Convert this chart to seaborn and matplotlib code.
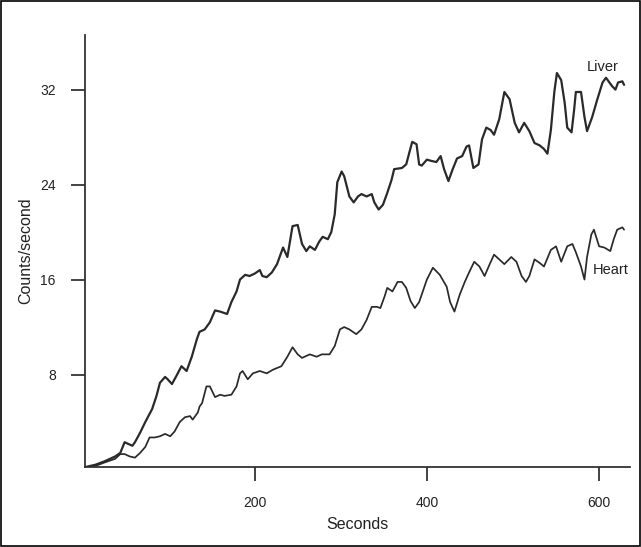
import matplotlib
matplotlib.use("Agg")
import matplotlib.pyplot as plt
import seaborn as sns

# Liver curve (seconds, counts/second)
liver_t = [3, 15, 26, 38, 44, 49, 58, 61, 67, 73, 81, 86, 90, 96, 99, 104, 110, 115, 121, 127,
           133, 136, 142, 148, 154, 160, 168, 173, 179, 183, 189, 194, 200, 206, 209, 214, 220,
           226, 233, 238, 244, 250, 255, 260, 264, 270, 275, 279, 285, 289, 293, 296, 301, 304,
           310, 315, 320, 324, 330, 336, 339, 344, 349, 354, 359, 362, 371, 376, 380, 383, 388,
           391, 394, 400, 405, 411, 416, 420, 425, 430, 435, 441, 446, 449, 454, 460, 464, 469,
           474, 478, 484, 490, 496, 502, 507, 513, 519, 525, 531, 536, 540, 544, 548, 551, 556,
           560, 563, 568, 571, 573, 579, 583, 586, 592, 598, 604, 608, 615, 619, 622, 627, 629]
liver_v = [0.2, 0.4, 0.7, 1.1, 1.4, 2.3, 2.0, 2.3, 3.1, 4.0, 5.1, 6.2, 7.3, 7.8, 7.6, 7.2, 8.0,
           8.7, 8.3, 9.5, 11.0, 11.6, 11.8, 12.4, 13.4, 13.3, 13.1, 14.1, 15.0, 16.0, 16.4, 16.3,
           16.5, 16.8, 16.3, 16.2, 16.6, 17.3, 18.7, 17.9, 20.5, 20.6, 19.0, 18.4, 18.8, 18.5,
           19.2, 19.6, 19.4, 20.0, 21.5, 24.2, 25.1, 24.7, 23.0, 22.5, 23.0, 23.2, 23.0, 23.2,
           22.5, 21.9, 22.3, 23.3, 24.4, 25.3, 25.4, 25.7, 26.8, 27.6, 27.4, 25.7, 25.6, 26.1,
           26.0, 25.9, 26.4, 25.3, 24.3, 25.3, 26.2, 26.4, 27.2, 27.3, 25.4, 25.7, 27.8, 28.8,
           28.6, 28.2, 29.5, 31.8, 31.2, 29.2, 28.4, 29.2, 28.5, 27.5, 27.3, 27.0, 26.6, 28.6,
           31.8, 33.4, 32.8, 30.9, 28.8, 28.4, 30.3, 31.8, 31.8, 29.7, 28.5, 29.7, 31.2, 32.6,
           33.0, 32.3, 32.0, 32.6, 32.7, 32.4]

# Heart curve
heart_t = [3, 15, 26, 38, 44, 49, 55, 61, 67, 73, 78, 84, 90, 96, 102, 107, 113, 119, 125, 128,
           134, 136, 139, 144, 148, 154, 160, 165, 173, 179, 183, 186, 192, 198, 206, 214, 221,
           231, 238, 244, 250, 255, 264, 272, 278, 287, 293, 299, 304, 310, 318, 324, 330, 336,
           342, 346, 351, 354, 360, 366, 371, 376, 381, 386, 391, 400, 407, 415, 423, 427, 432,
           438, 444, 449, 455, 461, 467, 473, 478, 484, 490, 498, 504, 510, 515, 519, 525, 531,
           536, 544, 550, 556, 563, 569, 573, 579, 583, 586, 591, 594, 600, 606, 613, 617, 621,
           627, 629]
heart_v = [0.2, 0.3, 0.6, 0.9, 1.3, 1.3, 1.1, 1.0, 1.4, 1.9, 2.7, 2.7, 2.8, 3.0, 2.8, 3.2, 4.0,
           4.4, 4.5, 4.2, 4.8, 5.3, 5.6, 7.0, 7.0, 6.1, 6.3, 6.2, 6.3, 7.0, 8.1, 8.3, 7.6, 8.1,
           8.3, 8.1, 8.4, 8.7, 9.5, 10.3, 9.7, 9.4, 9.7, 9.5, 9.7, 9.7, 10.4, 11.8, 12.0, 11.8,
           11.4, 11.8, 12.6, 13.7, 13.7, 13.6, 14.6, 15.3, 15.0, 15.8, 15.8, 15.3, 14.2, 13.6,
           14.1, 16.0, 17.0, 16.4, 15.4, 14.1, 13.3, 14.7, 15.8, 16.6, 17.5, 17.1, 16.3, 17.3,
           18.1, 17.7, 17.3, 17.9, 17.5, 16.3, 15.8, 16.3, 17.7, 17.4, 17.1, 18.5, 18.8, 17.5,
           18.8, 19.0, 18.3, 17.1, 16.0, 17.9, 19.8, 20.2, 18.8, 18.7, 18.4, 19.4, 20.2, 20.4,
           20.2]

x_ticks = [200, 400, 600]
y_ticks = [8, 16, 24, 32]

sns.set_style("ticks")
plt.rcParams["font.family"] = ["Liberation Sans", "DejaVu Sans"]

fig, ax = plt.subplots(figsize=(6.41, 5.47), dpi=100)
fig.subplots_adjust(left=0.1326, right=0.983, bottom=0.146, top=0.936)

line_col = "#2a2a2a"
sns.lineplot(x=liver_t, y=liver_v, color=line_col, linewidth=1.6, ax=ax)
sns.lineplot(x=heart_t, y=heart_v, color=line_col, linewidth=1.25, ax=ax)

ax.set_xlim(3, 636)
ax.set_ylim(0.2, 36.6)
ax.set_xticks(x_ticks)
ax.set_yticks(y_ticks)
ax.tick_params(axis="both", direction="out", length=10, width=1.2, pad=11,
               labelsize=10, colors="#222222")
for side in ["left", "bottom"]:
    ax.spines[side].set_linewidth(1.3)
    ax.spines[side].set_color("#333333")
sns.despine(ax=ax)

ax.set_xlabel("Seconds", fontsize=11.5, color="#222222", labelpad=5)
ax.set_ylabel("Counts/second", fontsize=11.5, color="#222222", labelpad=5)

ax.text(604, 33.9, "Liver", fontsize=10.5, ha="center", va="center", color="#222222")
ax.text(613, 16.8, "Heart", fontsize=10.5, ha="center", va="center", color="#222222")

fig.add_artist(plt.Rectangle((0.001, 0.001), 0.997, 0.997, transform=fig.transFigure,
                             fill=False, edgecolor="black", linewidth=1.2))

fig.savefig("out.png", dpi=100)
